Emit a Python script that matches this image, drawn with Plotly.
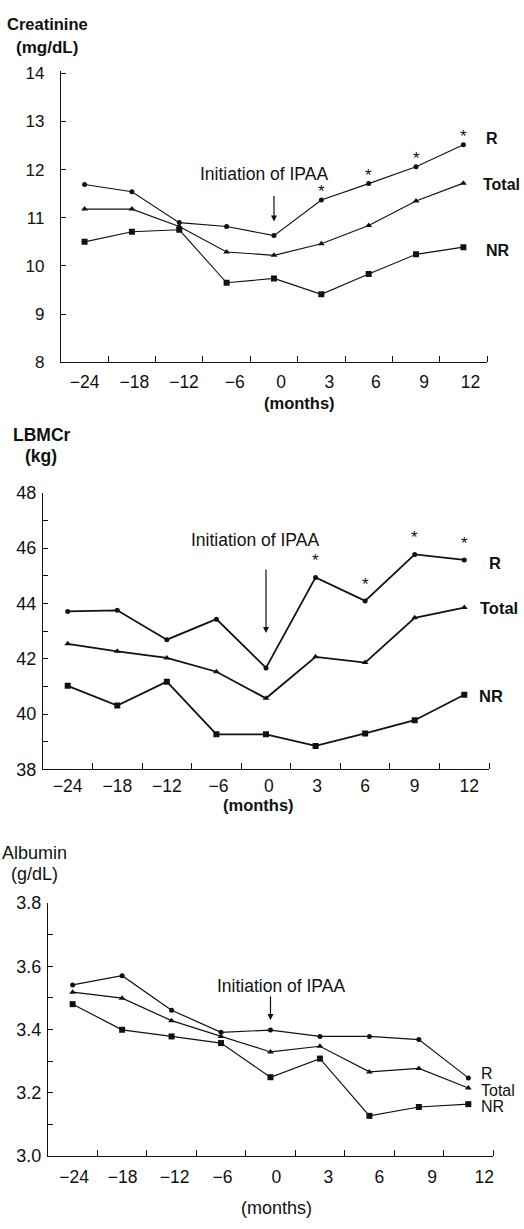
import plotly.graph_objects as go

W, H = 524, 1229

# ---------------- data ----------------
month_labels = ["\u221224", "\u221218", "\u221212", "\u22126", "0", "3", "6", "9", "12"]
x_idx = list(range(len(month_labels)))

creat_R = [11.69, 11.54, 10.90, 10.82, 10.63, 11.37, 11.71, 12.06, 12.52]
creat_Total = [11.18, 11.18, 10.82, 10.29, 10.22, 10.46, 10.84, 11.35, 11.72]
creat_NR = [10.50, 10.71, 10.75, 9.65, 9.74, 9.41, 9.83, 10.24, 10.39]
creat_sig = [False, False, False, False, False, True, True, True, True]

lbm_R = [43.71, 43.75, 42.69, 43.43, 41.67, 44.94, 44.09, 45.77, 45.57]
lbm_Total = [42.54, 42.27, 42.03, 41.53, 40.57, 42.07, 41.86, 43.48, 43.85]
lbm_NR = [41.02, 40.31, 41.17, 39.27, 39.27, 38.85, 39.30, 39.78, 40.70]
lbm_sig = [False, False, False, False, False, True, True, True, True]

alb_R = [3.541, 3.570, 3.461, 3.391, 3.398, 3.378, 3.378, 3.368, 3.247]
alb_Total = [3.518, 3.499, 3.428, 3.378, 3.329, 3.347, 3.266, 3.277, 3.215]
alb_NR = [3.480, 3.399, 3.378, 3.357, 3.249, 3.308, 3.127, 3.155, 3.164]

FONT = "Liberation Sans, Arial, sans-serif"
BLACK = "#111111"


def px(x):
    return x / W


def py(y):
    return 1 - y / H


fig = go.Figure()

# tick-label placement (the scanned original prints labels slightly right of the points)
lab_shift_1 = [0, 0.05, 0.1, 0.17, 0.15, 0.17, 0.15, 0.17, 0.15]
lab_shift_2 = [0, 0, 0, 0.04, 0.06, 0.03, 0, 0, 0.1]
lab_shift_3 = [0.03, 0.01, 0.06, 0.03, 0.12, 0.17, 0.2, 0.27, 0.32]

panels = [
    dict(n="", R=creat_R, T=creat_Total, N=creat_NR, sig=creat_sig, lshift=lab_shift_1,
         xdom=(61, 488), ydom=(62, 358), yr=(8, 14.05), dtick=1, minor=None,
         tickfmt="d", lw=1.1, ms=(5, 6, 6), ysf=17, ystand=12, xstand=4,
         title=(("Creatinine", 16.5), ("(mg/dL)", 17)), title_xy=((48, 14), (47, 38)), tbold=True,
         labels=[("R", 485, 131), ("Total", 482, 177), ("NR", 485, 244)], lbold=True, lsize=16,
         note=(265, 167), arrow_ay=-41, arrow_stand=14, months=(300, 400), mbold=True,
         sigshift=-3),
    dict(n="2", R=lbm_R, T=lbm_Total, N=lbm_NR, sig=lbm_sig, lshift=lab_shift_2,
         xdom=(43, 490), ydom=(490.7, 772), yr=(38, 48), dtick=2, minor=1,
         tickfmt="d", lw=1.8, ms=(5, 6, 6), ysf=18, ystand=2, xstand=0,
         title=(("LBMCr", 17.5), ("(kg)", 17.5)), title_xy=((42, 432), (41, 453)), tbold=True,
         labels=[("R", 488, 562), ("Total", 479, 608), ("NR", 478, 697)], lbold=True, lsize=16.5,
         note=(255, 539), arrow_ay=-100, arrow_stand=35, months=(259, 808), mbold=True,
         sigshift=5),
    dict(n="3", R=alb_R, T=alb_Total, N=alb_NR, sig=None, lshift=lab_shift_3,
         xdom=(48, 494), ydom=(907.7, 1165), yr=(3.0, 3.8), dtick=0.2, minor=0.1,
         tickfmt=".1f", lw=1.2, ms=(5, 6, 6), ysf=18, ystand=2, xstand=5,
         title=(("Albumin", 18), ("(g/dL)", 18)), title_xy=((35, 857), (35, 878)), tbold=False,
         labels=[("R", 480, 1081), ("Total", 480, 1098), ("NR", 480, 1115)], lbold=False, lsize=16,
         note=(282, 992), arrow_ay=-35, arrow_stand=10, months=(277, 1218), mbold=False,
         sigshift=0),
]

annotations = []

for p in panels:
    n = p["n"]
    xa, ya = "x" + n, "y" + n
    for vals, sym, ms in ((p["R"], "circle", p["ms"][0]),
                          (p["T"], "triangle-up", p["ms"][1]),
                          (p["N"], "square", p["ms"][2])):
        fig.add_trace(go.Scatter(
            x=x_idx, y=vals, mode="lines+markers", xaxis=xa, yaxis=ya,
            line=dict(color=BLACK, width=p["lw"]),
            marker=dict(symbol=sym, size=ms, color=BLACK),
            showlegend=False, hoverinfo="skip"))

    xkey = "xaxis" + n
    ykey = "yaxis" + n
    fig.layout[xkey] = dict(
        domain=[px(p["xdom"][0]), px(p["xdom"][1])], anchor=ya,
        range=[-0.5, 8.5], tickmode="array",
        tickvals=[i + s for i, s in zip(x_idx, p["lshift"])], ticktext=month_labels,
        ticks="", showgrid=False, zeroline=False, showline=True,
        linecolor=BLACK, linewidth=1.2, ticklabelstandoff=p["xstand"],
        tickfont=dict(family=FONT, size=17.5, color=BLACK),
        minor=dict(tickmode="array", tickvals=[i + 0.5 for i in x_idx],
                   ticks="inside", ticklen=6, tickcolor=BLACK, tickwidth=1, showgrid=False),
    )
    yd = dict(
        domain=[py(p["ydom"][1]), py(p["ydom"][0])], anchor=xa,
        range=list(p["yr"]), dtick=p["dtick"], tick0=p["yr"][0], tickformat=p["tickfmt"],
        ticks="inside", ticklen=5, tickcolor=BLACK, showgrid=False, zeroline=False,
        showline=True, linecolor=BLACK, linewidth=1.2, ticklabelstandoff=p["ystand"],
        tickfont=dict(family=FONT, size=p["ysf"], color=BLACK),
    )
    if p["minor"]:
        yd["minor"] = dict(dtick=p["minor"], tick0=p["yr"][0], ticks="inside", ticklen=5,
                           tickcolor=BLACK, showgrid=False)
    fig.layout[ykey] = yd

    # significance asterisks
    if p["sig"]:
        for i, s in enumerate(p["sig"]):
            if s:
                annotations.append(dict(x=i, y=p["R"][i], xref=xa, yref=ya, text="*",
                                        showarrow=False, yanchor="bottom", yshift=p["sigshift"],
                                        font=dict(family=FONT, size=17, color=BLACK)))

    # Initiation of IPAA arrow + text
    annotations.append(dict(x=4, y=p["R"][4], xref=xa, yref=ya, text="", showarrow=True,
                            ax=0, ay=p["arrow_ay"], standoff=p["arrow_stand"],
                            arrowhead=2, arrowsize=1, arrowwidth=1.2, arrowcolor=BLACK))
    annotations.append(dict(x=px(p["note"][0]), y=py(p["note"][1]), xref="paper", yref="paper",
                            text="Initiation of IPAA", showarrow=False,
                            xanchor="center", yanchor="middle",
                            font=dict(family=FONT, size=17.5, color=BLACK)))

    # series labels
    for txt, lx, ly in p["labels"]:
        t = f"<b>{txt}</b>" if p["lbold"] else txt
        annotations.append(dict(x=px(lx), y=py(ly), xref="paper", yref="paper", text=t,
                                showarrow=False, xanchor="left", yanchor="middle",
                                font=dict(family=FONT, size=p["lsize"], color=BLACK)))

    # y-axis title
    for (t, fs), (tx, ty) in zip(p["title"], p["title_xy"]):
        if p["tbold"]:
            t = f"<b>{t}</b>"
        annotations.append(dict(x=px(tx), y=py(ty), xref="paper", yref="paper", text=t,
                                showarrow=False, xanchor="center", yanchor="middle",
                                font=dict(family=FONT, size=fs, color=BLACK)))

    # x-axis title
    mt = "<b>(months)</b>" if p["mbold"] else "(months)"
    annotations.append(dict(x=px(p["months"][0]), y=py(p["months"][1]), xref="paper", yref="paper",
                            text=mt, showarrow=False, xanchor="center", yanchor="middle",
                            font=dict(family=FONT, size=16.5 if p["mbold"] else 18, color=BLACK)))

fig.update_layout(
    width=W, height=H, margin=dict(l=0, r=0, t=0, b=0),
    paper_bgcolor="white", plot_bgcolor="white",
    annotations=annotations, showlegend=False,
)

fig.write_html("out.html", config={"displayModeBar": False},
               post_script="document.body.style.margin='0';")
